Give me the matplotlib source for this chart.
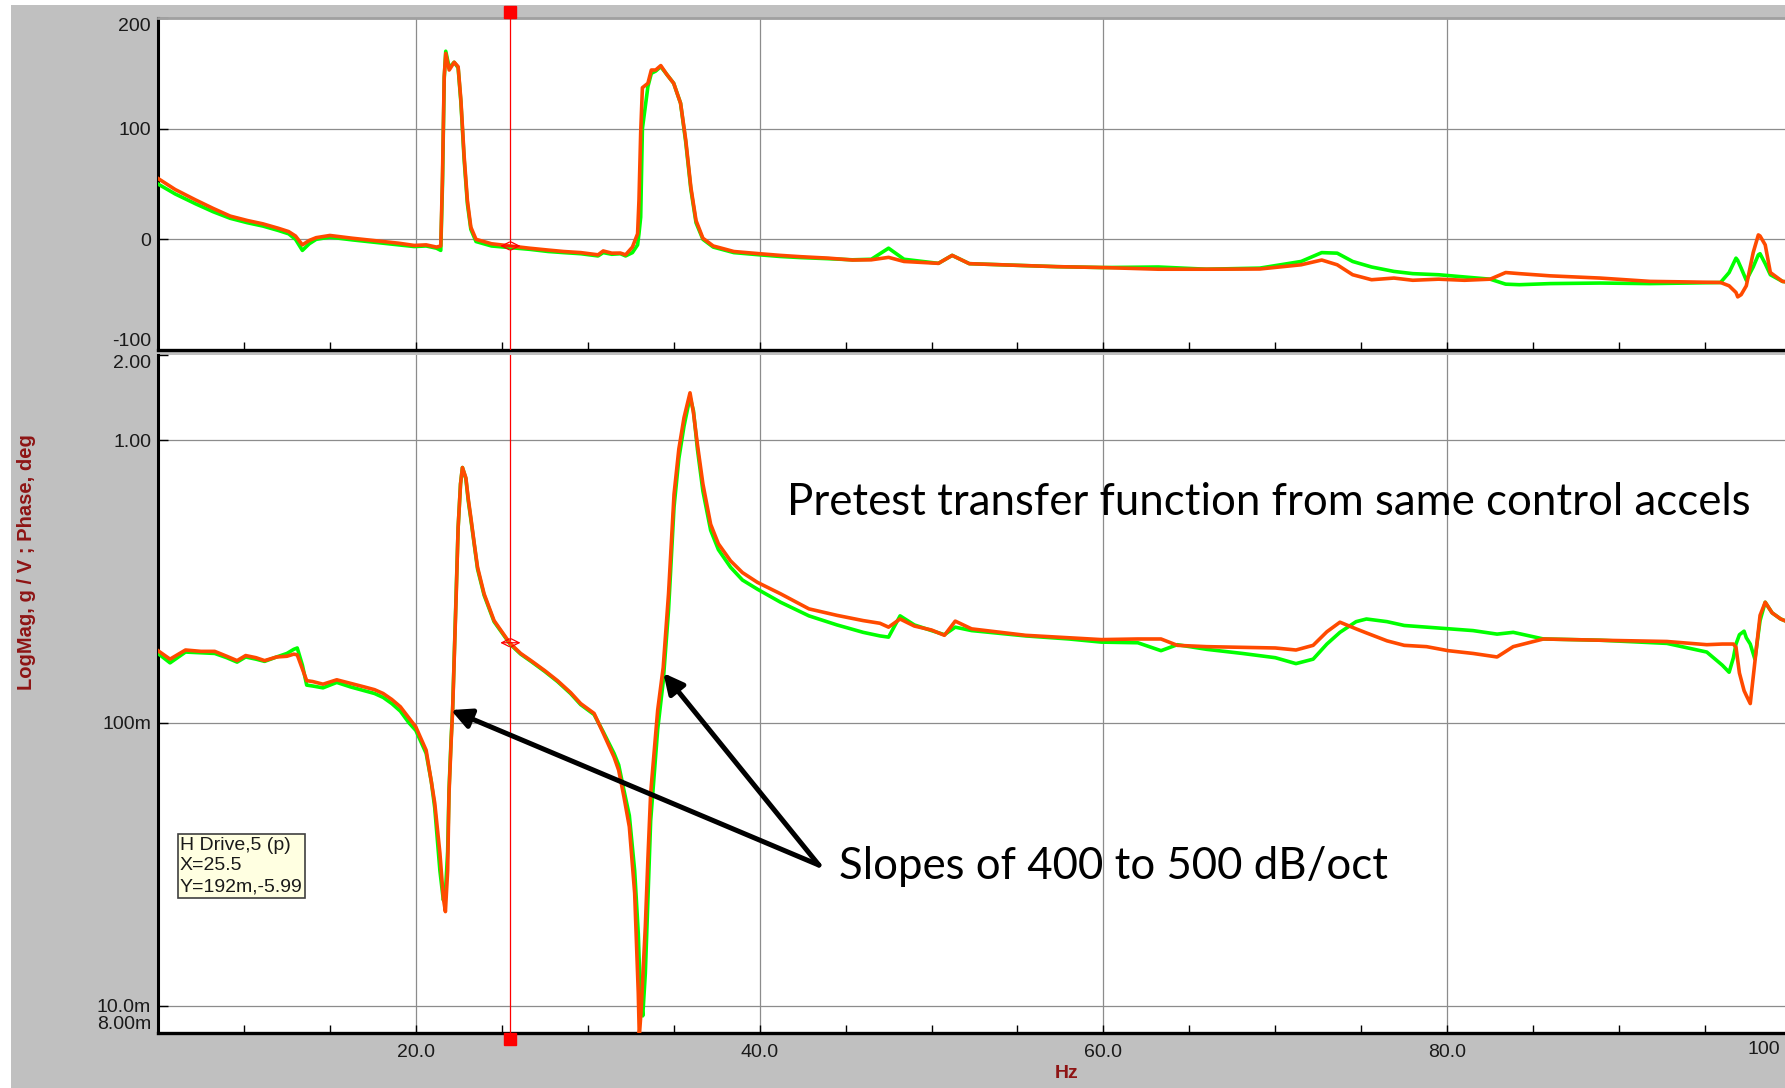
import matplotlib

matplotlib.use("Agg")
import matplotlib.pyplot as plt
from matplotlib.patches import Rectangle
from matplotlib.transforms import blended_transform_factory

# ---- data (Hz, deg / g/V) ----
phase_freq = [5.0, 6.0, 7.2, 8.2, 9.2, 10.2, 11.1, 12.0, 12.6, 13.0, 13.4, 13.8,
              14.2, 15.0, 16.3, 17.2, 18.1, 19.0, 19.9, 20.6, 21.2, 21.45, 21.55,
              21.65, 21.74, 21.94, 22.23, 22.46, 22.62, 22.81, 23.0, 23.2, 23.5,
              24.4, 25.5, 26.6, 27.7, 28.6, 29.6, 30.6, 30.9, 31.4, 31.9, 32.2,
              32.6, 32.9, 32.98, 33.08, 33.18, 33.5, 33.7, 33.95, 34.25, 34.6,
              35.0, 35.4, 35.7, 36.0, 36.3, 36.7, 37.3, 38.5, 40.0, 41.2, 42.4,
              44.0, 45.4, 46.5, 47.5, 48.4, 50.4, 51.2, 52.2, 55.0, 57.3, 60.0,
              63.2, 66.0, 69.1, 71.5, 72.7, 73.6, 74.5, 75.6, 76.9, 78.0, 79.5,
              81.0, 82.5, 83.4, 84.2, 86.0, 88.9, 91.8, 94.0, 95.9, 96.4, 96.8,
              96.9, 97.1, 97.4, 97.8, 98.1, 98.2, 98.5, 98.8, 99.5, 100.0]
phase_orange = [55, 45, 35.5, 28, 21, 17, 14, 10, 7, 3, -5, -1,
                1.5, 3.5, 1, -0.5, -2, -3.5, -5.5, -5, -7, -6, 57,
                147, 168, 153, 160, 156, 126, 75, 35, 11, 0,
                -4, -6, -8, -9.7, -11, -12, -14, -10.5, -12.5, -12.4, -14,
                -7, 5, 35, 96, 137, 141, 153, 153, 157, 149,
                141, 123, 90, 47, 17, 1, -6, -11, -13, -14.5, -15.7,
                -17, -18.7, -18.5, -16.3, -20, -21.7, -14.5, -22, -23.5, -24.7, -25.5,
                -27, -27, -26.8, -23, -18.7, -23, -32, -36.5, -35, -37, -36,
                -37, -36, -30, -31, -33, -35, -38, -38.5, -39, -42, -48,
                -52, -50, -42, -12, 4, 3, -5, -30, -38, -39]
phase_green = [50, 41, 32, 25, 19, 15, 12, 8, 5, 0, -10, -4,
               0, 2, -0.5, -2, -3.5, -5, -6.5, -6, -8, -10, 50,
               145, 170, 155, 160, 155, 124, 72, 32, 9, -2,
               -6, -7.5, -9, -11, -12, -13, -15, -12, -13.5, -13, -15,
               -12, -5, 5, 20, 100, 138, 150, 152, 156, 149,
               141, 123, 88, 45, 15, 0, -7, -12, -14, -15.5, -16.5,
               -17.5, -18.5, -18, -8, -18, -21.7, -14.5, -22, -23.5, -24.7, -25.5,
               -25, -27, -26, -20, -12, -12.5, -20, -25, -29, -31, -32,
               -34, -36, -40.5, -41, -40, -39.5, -40, -39.5, -39, -30, -17,
               -19, -26, -37, -25, -14, -13, -22, -32, -38, -39]

mag_freq = [5.0, 5.7, 6.6, 7.5, 8.3, 9.0, 9.6, 10.1, 10.7, 11.2, 11.9, 12.5, 12.9,
            13.1, 13.4, 13.65, 14.0, 14.6, 15.4, 16.2, 17.0, 17.6, 18.1, 18.6,
            19.1, 19.6, 20.0, 20.6, 20.9, 21.1, 21.4, 21.6, 21.72, 21.85, 21.93,
            22.05, 22.14, 22.35, 22.46, 22.6, 22.71, 22.91, 23.05, 23.2, 23.4,
            23.59, 23.97, 24.55, 25.48, 26.1, 26.7, 27.5, 28.24, 29.0, 29.59,
            30.37, 30.9, 31.53, 31.8, 32.1, 32.42, 32.73, 32.94, 33.0, 33.1,
            33.2, 33.35, 33.5, 33.66, 34.07, 34.39, 34.7, 35.02, 35.3, 35.6,
            35.95, 36.15, 36.38, 36.7, 37.15, 37.6, 38.31, 39.0, 39.87, 41.22,
            42.87, 44.5, 46.02, 47.0, 47.5, 48.17, 49.0, 50.0, 50.75, 51.38,
            52.33, 55.47, 58.0, 59.88, 62.0, 63.35, 64.3, 66.0, 68.08, 70.0,
            71.2, 72.2, 73.0, 73.76, 74.7, 75.3, 76.5, 77.5, 78.8, 80.06, 81.5,
            82.9, 83.84, 85.6, 88.9, 92.78, 95.1, 96.0, 96.4, 96.65, 96.8, 97.0,
            97.27, 97.4, 97.63, 97.9, 98.2, 98.5, 98.9, 99.4, 100.0]
mag_orange = [0.180, 0.168, 0.181, 0.179, 0.179, 0.172, 0.166, 0.173, 0.170, 0.166,
              0.171, 0.172, 0.175, 0.174, 0.155, 0.141, 0.140, 0.137, 0.142,
              0.138, 0.134, 0.131, 0.127, 0.121, 0.114, 0.104, 0.0967, 0.080,
              0.062, 0.052, 0.0346, 0.024, 0.0215, 0.030, 0.0563, 0.085, 0.111,
              0.286, 0.49, 0.70, 0.80, 0.736, 0.62, 0.532, 0.43, 0.355, 0.286,
              0.230, 0.191, 0.176, 0.166, 0.153, 0.141, 0.128, 0.117, 0.108,
              0.092, 0.0757, 0.068, 0.055, 0.0429, 0.025, 0.0111, 0.0078, 0.0095,
              0.0125, 0.019, 0.033, 0.0563, 0.111, 0.157, 0.286, 0.643, 0.93,
              1.20, 1.47, 1.25, 0.966, 0.70, 0.504, 0.43, 0.374, 0.34, 0.314,
              0.286, 0.253, 0.240, 0.230, 0.225, 0.218, 0.233, 0.220, 0.213,
              0.204, 0.229, 0.215, 0.204, 0.200, 0.197, 0.198, 0.198, 0.188,
              0.186, 0.185, 0.184, 0.181, 0.188, 0.210, 0.227, 0.215, 0.208,
              0.195, 0.188, 0.186, 0.180, 0.176, 0.171, 0.186, 0.198, 0.196,
              0.194, 0.189, 0.190, 0.190, 0.190, 0.185, 0.150, 0.130, 0.125,
              0.117, 0.165, 0.240, 0.267, 0.245, 0.233, 0.225]
mag_green = [0.176, 0.163, 0.178, 0.177, 0.176, 0.170, 0.164, 0.171, 0.168, 0.165,
             0.171, 0.176, 0.182, 0.184, 0.160, 0.136, 0.135, 0.133, 0.139,
             0.134, 0.130, 0.127, 0.123, 0.117, 0.110, 0.100, 0.094, 0.078,
             0.062, 0.050, 0.030, 0.0236, 0.025, 0.035, 0.058, 0.087, 0.112,
             0.290, 0.49, 0.70, 0.80, 0.730, 0.61, 0.525, 0.425, 0.350, 0.283,
             0.228, 0.190, 0.175, 0.165, 0.152, 0.140, 0.127, 0.116, 0.107,
             0.093, 0.078, 0.071, 0.058, 0.047, 0.030, 0.018, 0.014, 0.0105,
             0.0092, 0.013, 0.024, 0.045, 0.095, 0.140, 0.250, 0.580, 0.86,
             1.12, 1.42, 1.27, 0.930, 0.66, 0.480, 0.41, 0.355, 0.32, 0.297,
             0.267, 0.239, 0.222, 0.209, 0.203, 0.201, 0.239, 0.222, 0.212,
             0.205, 0.218, 0.212, 0.203, 0.198, 0.193, 0.192, 0.180, 0.189,
             0.182, 0.176, 0.170, 0.162, 0.168, 0.190, 0.209, 0.228, 0.233,
             0.228, 0.221, 0.218, 0.215, 0.212, 0.206, 0.209, 0.198, 0.196,
             0.191, 0.178, 0.160, 0.151, 0.170, 0.190, 0.205, 0.211, 0.200,
             0.190, 0.168, 0.230, 0.267, 0.245, 0.233, 0.225]

cursor_x = 25.5
cursor_phase = -5.99
cursor_mag = 0.192

phase_ticks = [-100, 0, 100, 200]
phase_labels = ["-100", "0", "100", "200"]
mag_ticks = [0.008, 0.01, 0.1, 1.0, 2.0]
mag_labels = ["8.00m", "10.0m", "100m", "1.00", "2.00"]
freq_ticks = [20, 40, 60, 80, 100]
# last label is clipped at the window edge in the original, drawn separately
freq_labels = ["20.0", "40.0", "60.0", "80.0", ""]

GREEN = "#00ff00"
ORANGE = "#ff4a00"
DARKRED = "#8e1414"
GRID = "#8c8c8c"
W, H = 1785, 1088

plt.rcParams["font.family"] = ["Liberation Sans", "DejaVu Sans"]

fig = plt.figure(figsize=(W / 100, H / 100), dpi=100, facecolor="#c0c0c0")
fig.patches.append(Rectangle((0, 0), 11 / W, 1, transform=fig.transFigure,
                             facecolor="white", edgecolor="none", zorder=-10))
fig.patches.append(Rectangle((0, 1 - 5 / H), 1, 5 / H, transform=fig.transFigure,
                             facecolor="white", edgecolor="none", zorder=-10))

left = 158 / W
width = 1791 / W - left
ax1 = fig.add_axes([left, 1 - 350 / H, width, 332 / H])
ax2 = fig.add_axes([left, 1 - 1033 / H, width, 678 / H])

for ax in (ax1, ax2):
    ax.set_xlim(5, 100)
    ax.set_xticks(freq_ticks)
    ax.set_xticks(range(10, 100, 5), minor=True)
    ax.tick_params(axis="x", which="both", direction="in", length=6, width=1,
                   color="black", labelsize=14, labelcolor="#1a1a1a", pad=8)
    ax.tick_params(axis="y", which="both", direction="in", length=7, width=1,
                   labelsize=14, labelcolor="#1a1a1a", pad=5)
    ax.grid(True, which="major", color=GRID, linewidth=0.9)
    ax.spines["left"].set_linewidth(2.2)
    ax.spines["bottom"].set_linewidth(2.4)
    ax.spines["right"].set_visible(False)
    ax.axvline(cursor_x, color="red", linewidth=0.9, zorder=4)

ax1.spines["top"].set_color("#a0a0a0")
ax1.spines["top"].set_linewidth(2)
ax2.spines["top"].set_visible(False)

# phase panel
ax1.plot(phase_freq, phase_green, color=GREEN, linewidth=2.6, zorder=5)
ax1.plot(phase_freq, phase_orange, color=ORANGE, linewidth=2.6, zorder=6)
ax1.set_ylim(-100, 200)
ax1.set_yticks(phase_ticks)
ax1.set_yticklabels(phase_labels)
ax1.set_xticklabels([])
ax1.get_yticklabels()[0].set_va("bottom")
ax1.get_yticklabels()[-1].set_va("top")

# magnitude panel
ax2.plot(mag_freq, mag_green, color=GREEN, linewidth=2.6, zorder=5)
ax2.plot(mag_freq, mag_orange, color=ORANGE, linewidth=2.6, zorder=6)
ax2.set_yscale("log")
ax2.set_ylim(0.008, 2.0)
ax2.set_yticks(mag_ticks)
ax2.set_yticklabels(mag_labels)
ax2.yaxis.set_minor_locator(matplotlib.ticker.NullLocator())
ax2.set_xticklabels(freq_labels)
ax2.get_yticklabels()[0].set_va("bottom")
ax2.get_yticklabels()[-1].set_va("top")
for gl, v in zip(ax2.get_ygridlines(), mag_ticks):
    if v in (0.008, 2.0):
        gl.set_visible(False)
fig.text(1764 / W, 1 - 1050 / H, "100", fontsize=14, color="#1a1a1a",
         ha="center", va="center")

# cursor decorations
for ax, yv in ((ax1, cursor_phase), (ax2, cursor_mag)):
    ax.annotate("", xy=(cursor_x - 0.75, yv), xytext=(cursor_x + 0.75, yv),
                arrowprops=dict(arrowstyle="<->", color="red", lw=0.9,
                                mutation_scale=14), zorder=7)
tr1 = blended_transform_factory(ax1.transData, ax1.transAxes)
ax1.plot([cursor_x], [1.018], marker="s", markersize=8, color="red",
         transform=tr1, clip_on=False, zorder=8)
tr2 = blended_transform_factory(ax2.transData, ax2.transAxes)
ax2.plot([cursor_x], [-0.009], marker="s", markersize=8, color="red",
         transform=tr2, clip_on=False, zorder=8)

fig.text(180 / W, 1 - 866 / H, "H Drive,5 (p)\nX=25.5\nY=192m,-5.99",
         fontsize=14, color="#1a1a1a", va="center", ha="left", linespacing=1.3,
         bbox=dict(boxstyle="square,pad=0.12", facecolor="#ffffe1",
                   edgecolor="#404040", linewidth=1.2))

# annotations
note_font = ["Lato", "DejaVu Sans"]
ax2.text(41.6, 0.60, "Pretest transfer function from same control accels",
         fontsize=31.5, family=note_font, va="center", ha="left", zorder=9)
ax2.text(44.6, 0.031, "Slopes of 400 to 500 dB/oct",
         fontsize=31.5, family=note_font, va="center", ha="left", zorder=9)
for head in ((22.04, 0.111), (34.4, 0.150)):
    ax2.annotate("", xy=head, xytext=(43.45, 0.0314),
                 arrowprops=dict(arrowstyle="-|>", color="black", lw=3.6,
                                 mutation_scale=30, shrinkA=0, shrinkB=0),
                 zorder=9)

fig.text(27 / W, 1 - 562 / H, "LogMag, g / V ; Phase, deg", rotation=90,
         color=DARKRED, fontsize=14.5, fontweight="bold", ha="center", va="center")
fig.text(1067 / W, 1 - 1073 / H, "Hz", color=DARKRED, fontsize=14,
         fontweight="bold", ha="center", va="center")

fig.savefig("out.png", dpi=100, facecolor=fig.get_facecolor())
